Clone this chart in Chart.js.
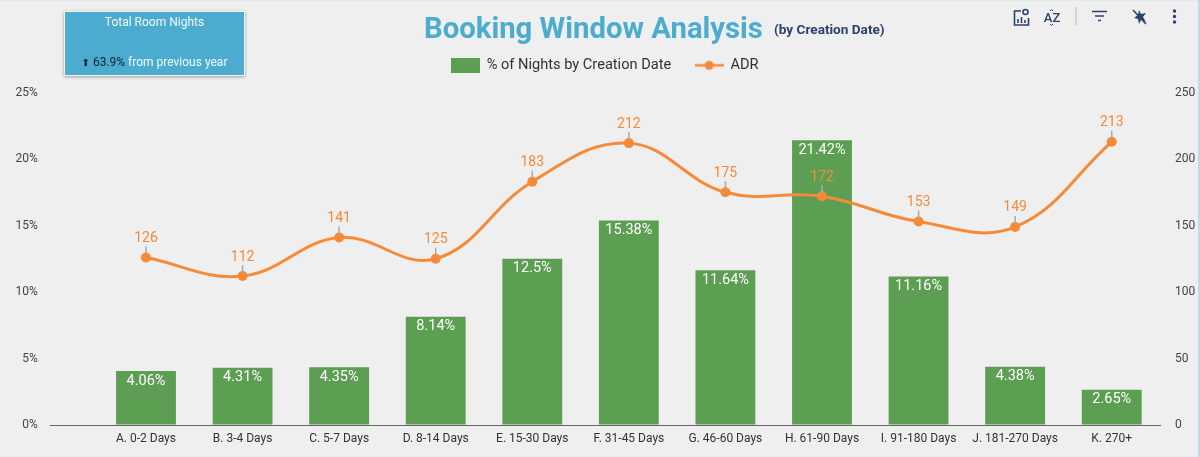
<!DOCTYPE html>
<html>
<head>
<meta charset="utf-8">
<title>Booking Window Analysis</title>
<script src="https://cdn.jsdelivr.net/npm/chart.js@4"></script>
<style>
html, body { margin: 0; padding: 0; background: #efefef; }
body { width: 1200px; height: 457px; position: relative; overflow: hidden; font-family: Roboto, sans-serif; }
#wrap { position: absolute; left: 0; top: 0; width: 1200px; height: 457px; }
#topline { position: absolute; left: 0; top: 0; width: 1200px; height: 1px; background: #e3e8ea; }
#bottomline { position: absolute; left: 0; top: 456px; width: 1200px; height: 1px; background: #e8ecee; }
#rightline { position: absolute; left: 1198px; top: 0; width: 2px; height: 457px; background: #bcdbe3; }
#card { position: absolute; left: 64px; top: 11px; width: 181px; height: 65px; background: #4bacd0; border: 1px solid #f4f4f4; box-shadow: 0 1px 3px rgba(0,0,0,.35); color: #f2f8fb; font-size: 12px; text-align: center; box-sizing: border-box; }
#card .t { position: absolute; top: 3px; left: 0; width: 100%; }
#card .b { position: absolute; top: 43px; left: 0; width: 100%; }
#card .b span { color: #10242e; }
#card .b i { font-style: normal; font-size: 10px; line-height: 10px; font-family: "DejaVu Sans"; }
#title { position: absolute; left: 424px; top: 11px; font-size: 29.300px; font-weight: 700; color: #4bacd0; white-space: nowrap; }
#sub { position: absolute; left: 774px; top: 21px; font-size: 13.600px; font-weight: 700; color: #2b4270; white-space: nowrap; }
#tools { position: absolute; left: 0; top: 0; }
</style>
</head>
<body>
<div id="wrap"><canvas id="myChart" width="1200" height="457"></canvas></div>
<div id="topline"></div>
<div id="bottomline"></div>
<div id="rightline"></div>
<div id="card">
  <div class="t">Total Room Nights</div>
  <div class="b"><span><i>&#11014;</i> 63.9%</span> from previous year</div>
</div>
<div id="title">Booking Window Analysis</div>
<div id="sub">(by Creation Date)</div>
<svg id="tools" width="1200" height="40" fill="none" stroke="#2b4270" stroke-width="1.6">
  <path d="M1021 11h-6.500v14h14v-7"/>
  <path d="M1018 23v-4M1021.500 23v-6M1025 23v-3"/>
  <circle cx="1025.500" cy="12" r="2.500"/>
  <text x="1052" y="22" fill="#2b4270" stroke="none" font-family="Roboto" font-size="13" font-weight="500" text-anchor="middle">AZ</text>
  <path d="M1050 11l1.500-1.500 1.500 1.500M1050 24l1.500 1.500 1.500-1.500" stroke-width="1"/>
  <path d="M1076 7v18" stroke="#c9ccd0"/>
  <path d="M1092 11.500h15M1095 16h9M1098 20.500h3"/>
  <path d="M1139 10l2 4 5-1-3 4 3 5-5-2-2 4-1-5-4-1 4-3z" fill="#2b4270" stroke="none"/>
  <path d="M1133 10l13 14"/>
  <circle cx="1174.500" cy="11" r="1.700" fill="#2b4270" stroke="none"/>
  <circle cx="1174.500" cy="16.500" r="1.700" fill="#2b4270" stroke="none"/>
  <circle cx="1174.500" cy="22" r="1.700" fill="#2b4270" stroke="none"/>
</svg>
<script>
const categories = ["A. 0-2 Days", "B. 3-4 Days", "C. 5-7 Days", "D. 8-14 Days", "E. 15-30 Days", "F. 31-45 Days", "G. 46-60 Days", "H. 61-90 Days", "I. 91-180 Days", "J. 181-270 Days", "K. 270+"]
const nightsPct = [4.06, 4.31, 4.35, 8.14, 12.5, 15.38, 11.64, 21.42, 11.16, 4.38, 2.65]
const adr = [126, 112, 141, 125, 183, 212, 175, 172, 153, 149, 213]
const pctTicks = [0, 5, 10, 15, 20, 25]
const adrTicks = [0, 50, 100, 150, 200, 250]

const GREEN = "#5c9e52"
const ORANGE = "#f58b38"

// legend marker for the line series: short line with a dot
const lineMarker = document.createElement("canvas")
lineMarker.width = 29
lineMarker.height = 12
const mctx = lineMarker.getContext("2d")
mctx.strokeStyle = ORANGE
mctx.lineWidth = 2.5
mctx.beginPath()
mctx.moveTo(0, 6)
mctx.lineTo(29, 6)
mctx.stroke()
mctx.fillStyle = ORANGE
mctx.beginPath()
mctx.arc(14.5, 6, 4.5, 0, Math.PI * 2)
mctx.fill()

const boxMarker = document.createElement("canvas")
boxMarker.width = 29
boxMarker.height = 15
const bctx = boxMarker.getContext("2d")
bctx.fillStyle = GREEN
bctx.fillRect(0, 0, 29, 15)

// value labels: white inside bars, orange with a leader above the points
const valueLabels = {
    id: "valueLabels",
    afterDatasetsDraw(chart) {
        const ctx = chart.ctx
        ctx.save()
        ctx.textAlign = "center"
        ctx.textBaseline = "middle"
        ctx.font = "14.500px Roboto"
        chart.getDatasetMeta(1).data.forEach((bar, i) => {
            ctx.fillStyle = "#ffffff"
            ctx.fillText(nightsPct[i] + "%", bar.x, bar.y + 10)
        })
        ctx.font = "14px Roboto"
        chart.getDatasetMeta(0).data.forEach((pt, i) => {
            ctx.strokeStyle = "#a9a9a9"
            ctx.lineWidth = 1.5
            ctx.beginPath()
            ctx.moveTo(pt.x, pt.y - 4)
            ctx.lineTo(pt.x, pt.y - 11)
            ctx.stroke()
            ctx.fillStyle = ORANGE
            ctx.fillText(adr[i], pt.x, pt.y - 19)
        })
        ctx.restore()
    }
}

const myChart = new Chart(document.getElementById("myChart"), {
    data: {
        labels: categories,
        datasets: [{
            type: "line",
            label: "ADR",
            data: adr,
            yAxisID: "y1",
            order: 0,
            borderColor: ORANGE,
            backgroundColor: ORANGE,
            borderWidth: 3,
            tension: 0.4,
            pointRadius: 5,
            pointBackgroundColor: ORANGE,
            pointBorderWidth: 0
        }, {
            type: "bar",
            label: "% of Nights by Creation Date",
            data: nightsPct,
            yAxisID: "y",
            order: 1,
            backgroundColor: GREEN,
            barPercentage: 0.62,
            categoryPercentage: 1
        }]
    },
    options: {
        responsive: false,
        animation: false,
        // left padding nudges the centred legend to the right
        layout: { padding: { top: 34, right: 0, bottom: 0, left: 10 } },
        plugins: {
            title: { display: false },
            tooltip: { enabled: false },
            // blank subtitle only keeps a gap between legend and plot
            subtitle: { display: true, text: " ", weight: 500, font: { size: 10, lineHeight: 1 }, padding: 0 },
            legend: {
                position: "top",
                labels: {
                    usePointStyle: true,
                    pointStyleWidth: 28,
                    padding: 24,
                    color: "#333333",
                    font: { family: "Roboto", size: 14.6 },
                    generateLabels: (chart) => [
                        { text: chart.data.datasets[1].label, pointStyle: boxMarker, fontColor: "#333333", datasetIndex: 1, lineWidth: 0, strokeStyle: "transparent", fillStyle: GREEN },
                        { text: chart.data.datasets[0].label, pointStyle: lineMarker, fontColor: "#333333", datasetIndex: 0, lineWidth: 0, strokeStyle: "transparent", fillStyle: ORANGE }
                    ]
                }
            }
        },
        scales: {
            x: {
                afterFit: (axis) => { axis.height = 32 },
                grid: { display: false },
                border: { display: true, color: "#666666", width: 1 },
                ticks: { color: "#333333", font: { family: "Roboto", size: 12 }, maxRotation: 0, autoSkip: false, padding: -1 }
            },
            y: {
                position: "left",
                min: pctTicks[0],
                max: pctTicks[pctTicks.length - 1],
                afterFit: (axis) => { axis.width = 87.700 },
                border: { display: false },
                grid: {
                    drawOnChartArea: false,
                    tickLength: 48,
                    tickColor: (c) => c.tick.value === 0 ? "#666666" : "transparent"
                },
                afterBuildTicks: (axis) => { axis.ticks = pctTicks.map((v) => ({ value: v })) },
                ticks: { color: "#444444", font: { family: "Roboto", size: 12 }, padding: 12, callback: (v) => v + "%" }
            },
            y1: {
                position: "right",
                min: adrTicks[0],
                max: adrTicks[adrTicks.length - 1],
                afterFit: (axis) => { axis.width = 40 },
                border: { display: false },
                grid: { display: false },
                afterBuildTicks: (axis) => { axis.ticks = adrTicks.map((v) => ({ value: v })) },
                ticks: { color: "#444444", font: { family: "Roboto", size: 12 }, padding: 7 }
            }
        }
    },
    plugins: [valueLabels]
})
</script>
</body>
</html>
